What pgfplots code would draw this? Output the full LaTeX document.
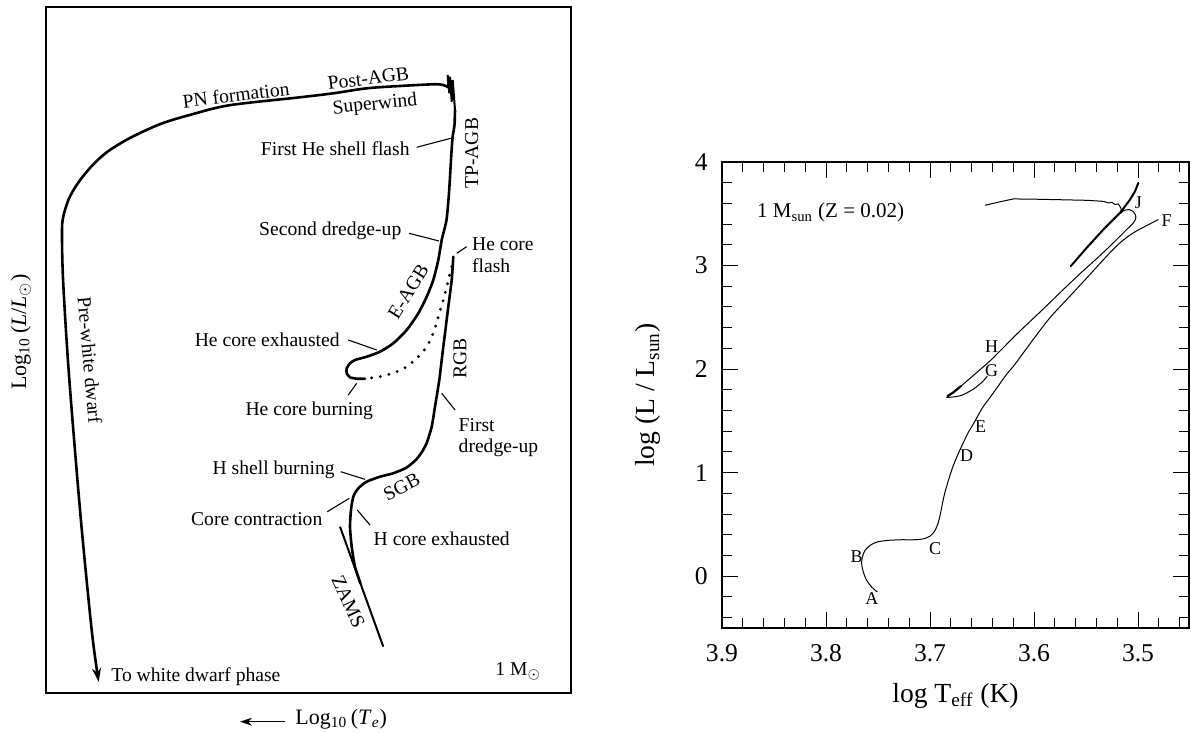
\documentclass[border=0pt]{standalone}
\usepackage{fontspec}
\setmainfont{Liberation Serif}
\usepackage{pgfplots}
\pgfplotsset{compat=1.18}
\usetikzlibrary{arrows.meta}

\begin{document}
\begin{tikzpicture}[
  lbl/.style={font=\fontsize{9.8}{11}\selectfont, inner sep=0pt},
  trk/.style={line width=1.3pt, line join=round, line cap=round},
  ldr/.style={line width=0.55pt},
  rtrk/.style={line width=0.5pt, line join=round},
  pt/.style={font=\fontsize{9}{10}\selectfont, inner sep=0pt},
]
\useasboundingbox (0pt,0pt) rectangle (595.5pt,366.5pt);

% ---------------- Schematic evolutionary track of a 1 solar-mass star ----------------
% Coordinates in a plain drawing frame, y growing downward.
\begin{axis}[
  at={(23pt,20pt)}, anchor=south west,
  scale only axis, width=262.5pt, height=343pt,
  xmin=46, xmax=571, ymin=7, ymax=693, y dir=reverse,
  xtick=\empty, ytick=\empty,
  axis line style={line width=1pt},
  clip=false,
]
% main sequence, subgiant and red-giant branches
\addplot[trk, smooth, tension=0.4] coordinates {
 (360.4,583.3) (355,566.7) (351.7,546.7) (350,526.7) (351,510) (353.3,496.7)
 (358.3,488.3) (366.7,481.7) (380,476.7) (393.3,473.3) (406.7,467.5) (416.7,459)
 (422.5,451) (426.7,443) (431.7,426.7) (435,406.7) (439.3,380) (441.7,360)
 (445,333.3) (448.3,306.7) (451.7,280) (453.3,256.7)};
% rapid drop after the He core flash
\addplot[line width=1.6pt, line cap=round, dash pattern=on 0pt off 4.4pt, smooth] coordinates {
 (451.7,266.7) (450,273.3) (446.7,286.7) (443.3,300) (438.3,316.7) (433.3,333.3)
 (426.7,346.7) (416.7,358.3) (406.7,366.7) (396.7,371.7) (386.7,375) (376.7,377.3) (365,378.7)};
% horizontal branch and asymptotic giant branch
\addplot[trk, smooth, tension=0.4] coordinates {
 (365,378.7) (356.7,378.7) (350,377.3) (346.7,373.3) (346.7,368.3) (350,363.3)
 (355,360) (366.7,356.7) (380,351.7) (393.3,343.3) (406.7,330) (418.3,313.3)
 (426.7,296.7) (433.3,280) (438.3,260) (441.7,240) (446.5,220) (449,193)
 (451,160) (452.5,138) (454.5,125) (455,110)};
% thermal pulses
\addplot[line width=1pt, line join=miter] coordinates {
 (455,110) (452.7,80) (451.7,101.7) (450,76.7) (449.3,93.3) (447.7,75) (448.3,87.3)};
% post-AGB and pre-white dwarf
\addplot[trk, smooth, tension=0.5, -{Stealth[length=7pt,width=4.5pt]}] coordinates {
 (448.3,87.3) (443.3,85) (433.3,84.3) (400,86) (366.7,88.3) (333.3,93.3) (300,97.3)
 (229.6,105.2) (191.4,114.5) (160.7,123.9) (130.1,137.9) (107.2,151.9) (91.8,166)
 (78.5,182.3) (68.9,198.7) (63.1,217.4) (62,233.8) (63.1,280.5) (68.9,374)
 (80.4,514.3) (91.8,631.1) (98.7,682)};
% zero-age main sequence
\addplot[line width=1pt] coordinates {(340,526.7) (383.3,646.7)};

% leader lines
\addplot[ldr] coordinates {(416.7,147.3) (450.7,138.3)};
\addplot[ldr] coordinates {(409,233.3) (439,241)};
\addplot[ldr] coordinates {(456.7,253.3) (466.7,246.7)};
\addplot[ldr] coordinates {(348.3,340) (376.7,350)};
\addplot[ldr] coordinates {(348.3,395) (356.7,383.3)};
\addplot[ldr] coordinates {(441.7,393.3) (455,410)};
\addplot[ldr] coordinates {(340.7,471.7) (365,479.3)};
\addplot[ldr] coordinates {(327.3,511.7) (349.3,498.3)};
\addplot[ldr] coordinates {(357.3,510) (370,525)};

% phase labels
\node[lbl, rotate=7] at (axis cs:236,95) {PN formation};
\node[lbl, rotate=7] at (axis cs:368.3,78.3) {Post-AGB};
\node[lbl, rotate=6] at (axis cs:375,105) {Superwind};
\node[lbl, anchor=east] at (axis cs:410,148.3) {First He shell flash};
\node[lbl, rotate=90] at (axis cs:471.7,153.3) {TP-AGB};
\node[lbl, anchor=east] at (axis cs:401.7,231) {Second dredge-up};
\node[lbl, anchor=west] at (axis cs:471.7,244) {He core};
\node[lbl, anchor=west] at (axis cs:471.7,265.7) {flash};
\node[lbl, rotate=58] at (axis cs:408.3,291.7) {E-AGB};
\node[lbl, anchor=east] at (axis cs:340,340) {He core exhausted};
\node[lbl, rotate=90] at (axis cs:460,358.3) {RGB};
\node[lbl, anchor=east] at (axis cs:373.3,410.7) {He core burning};
\node[lbl, anchor=west] at (axis cs:458.3,425) {First};
\node[lbl, anchor=west] at (axis cs:458.3,448.3) {dredge-up};
\node[lbl, anchor=east] at (axis cs:335,470) {H shell burning};
\node[lbl, rotate=27] at (axis cs:401.7,486.7) {SGB};
\node[lbl, anchor=east] at (axis cs:322.7,519.3) {Core contraction};
\node[lbl, anchor=west] at (axis cs:373.3,538.3) {H core exhausted};
\node[lbl, rotate=-65] at (axis cs:348.3,601.7) {ZAMS};
\node[lbl, rotate=-85] at (axis cs:89.9,360) {Pre-white dwarf};
\node[lbl, anchor=west] at (axis cs:111,677) {To white dwarf phase};
\node[lbl, anchor=west] at (axis cs:495,671.7) {1 M$_\odot$};

% axis captions
\node[rotate=90, font=\fontsize{11}{13}\selectfont] at (axis cs:21,332)
  {Log\textsubscript{10}\,(\textit{L}/\textit{L}$_\odot$)};
\draw[-{Stealth[length=6pt,width=4pt]}, line width=0.6pt]
  (axis cs:285,721.7) -- (axis cs:240,721.7);
\node[anchor=west, inner sep=0pt, font=\fontsize{11}{13}\selectfont] at (axis cs:295,719)
  {Log\textsubscript{10}\,(\textit{T}\textsubscript{\textit{e}})};
\end{axis}

% ---------------- Computed track, 1 Msun, Z = 0.02 ----------------
\begin{axis}[
  at={(361pt,52.5pt)}, anchor=south west,
  scale only axis, width=233.5pt, height=233pt,
  x dir=reverse, xmin=3.451, xmax=3.9, ymin=-0.5, ymax=4,
  xtick={3.5,3.6,3.7,3.8,3.9}, xticklabels={3.5,3.6,3.7,3.8,3.9},
  ytick={0,1,2,3,4}, yticklabels={0,1,2,3,4},
  minor xtick={3.46,3.48,3.52,3.54,3.56,3.58,3.62,3.64,3.66,3.68,3.72,3.74,3.76,3.78,3.82,3.84,3.86,3.88},
  minor ytick={-0.4,-0.2,0.2,0.4,0.6,0.8,1.2,1.4,1.6,1.8,2.2,2.4,2.6,2.8,3.2,3.4,3.6,3.8},
  tick align=inside,
  major tick length=8pt, minor tick length=5pt,
  every tick/.style={black, line width=0.5pt},
  axis line style={line width=0.7pt},
  ticklabel style={font=\rmfamily\fontsize{12.8}{14}\selectfont},
  xticklabel style={anchor=base, inner sep=0pt, yshift=-16.8pt},
  yticklabel style={anchor=east, inner sep=0pt, xshift=-7pt},
  xlabel={log T\textsubscript{eff} (K)},
  ylabel={log (L / L\textsubscript{sun})},
  every axis x label/.style={at={(rel axis cs:0.5,-0.145)}, anchor=center},
  every axis y label/.style={at={(rel axis cs:-0.158,0.5)}, rotate=90, anchor=center},
  label style={font=\rmfamily\fontsize{13.8}{15}\selectfont},
]
% pre-main sequence end, main sequence, subgiant and red-giant branch (A to F)
\addplot[rtrk, smooth, tension=0.5] coordinates {
 (3.7507,-0.152) (3.7561,-0.104) (3.7609,-0.040) (3.7641,0.040) (3.7657,0.120)
 (3.7651,0.185) (3.7625,0.249) (3.7577,0.297) (3.7513,0.329) (3.7417,0.345)
 (3.7288,0.352) (3.7160,0.352) (3.7064,0.361) (3.7000,0.387) (3.6952,0.441)
 (3.6920,0.522) (3.6897,0.618) (3.6878,0.715) (3.6856,0.811) (3.6824,0.923)
 (3.6782,1.052) (3.6737,1.164) (3.6686,1.276) (3.6632,1.389) (3.6584,1.469)
 (3.6536,1.556) (3.6487,1.640) (3.6423,1.726) (3.6343,1.838) (3.6263,1.951)
 (3.6183,2.047) (3.6020,2.270) (3.5846,2.497) (3.5654,2.705)
 (3.5462,2.914) (3.5301,3.091) (3.5173,3.220) (3.5045,3.316) (3.4917,3.386)
 (3.4805,3.444)};
% horizontal branch (G) to the tip of the loop
\addplot[rtrk, smooth, tension=0.5] coordinates {
 (3.6449,1.934) (3.6487,1.886) (3.6584,1.806) (3.6712,1.742) (3.6840,1.726)};
% early AGB (H) up to J
\addplot[rtrk, smooth, tension=0.5] coordinates {
 (3.6840,1.726) (3.6776,1.775) (3.6680,1.855) (3.6551,1.967) (3.6423,2.079)
 (3.6327,2.175) (3.6135,2.368) (3.5942,2.551) (3.5750,2.738) (3.5558,2.921)
 (3.5365,3.097) (3.5205,3.251) (3.5109,3.348) (3.5045,3.412) (3.5020,3.465)
 (3.5040,3.515) (3.5085,3.540) (3.5140,3.530) (3.5165,3.505)};
\addplot[line width=1.1pt, line cap=round] coordinates {
 (3.6830,1.740) (3.6776,1.775) (3.6700,1.838)};
% thermally pulsing AGB
\addplot[line width=1pt, line cap=round] coordinates {
 (3.5647,2.994) (3.5494,3.171) (3.5333,3.348) (3.5173,3.509) (3.5077,3.637)
 (3.5029,3.717) (3.4997,3.798)};
% post-AGB
\addplot[rtrk] coordinates {
 (3.5157,3.509) (3.5166,3.557) (3.5189,3.595) (3.5221,3.589) (3.5253,3.611)
 (3.5286,3.605) (3.5333,3.620) (3.5494,3.630) (3.5814,3.637) (3.6050,3.642)
 (3.6199,3.643) (3.6330,3.615) (3.6471,3.582)};

% phase points
\node[pt] at (axis cs:3.756,-0.217) {A};
\node[pt] at (axis cs:3.7705,0.185) {B};
\node[pt] at (axis cs:3.6952,0.265) {C};
\node[pt] at (axis cs:3.6647,1.164) {D};
\node[pt] at (axis cs:3.6513,1.447) {E};
\node[pt] at (axis cs:3.4724,3.437) {F};
\node[pt] at (axis cs:3.6407,1.983) {G};
\node[pt] at (axis cs:3.6407,2.218) {H};
\node[pt] at (axis cs:3.4997,3.605) {J};
\node[anchor=west, inner sep=0pt, font=\fontsize{10.5}{12}\selectfont]
  at (axis cs:3.8666,3.509) {1 M\textsubscript{sun} (Z = 0.02)};
\end{axis}
\end{tikzpicture}
\end{document}
